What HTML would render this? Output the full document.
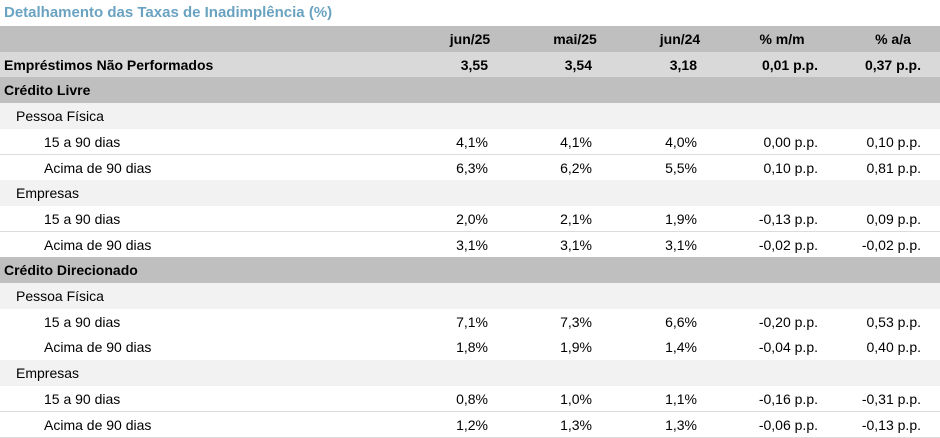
<!DOCTYPE html>
<html><head><meta charset="utf-8"><style>
body{margin:0;width:940px;height:437px;overflow:hidden;background:#fff;font-family:"Liberation Sans",sans-serif;color:#000}
#t{position:absolute;left:4px;top:4px;font-size:15px;font-weight:bold;color:#6aa3c2}
.r{position:absolute;left:0;width:940px;height:26px;box-sizing:border-box;font-size:14px}
.r span{position:absolute;top:5px;white-space:nowrap}
.h{background:#bfbfbf;font-weight:bold}
.e{background:#d9d9d9;font-weight:bold}
.s{background:#f2f2f2}
.d{background:#fff;border-bottom:1px solid #dcdcdc}
</style></head><body>
<div id="t">Detalhamento das Taxas de Inadimplência (%)</div>
<div id="tb"></div>
<script>
const rowLabels=["","Empréstimos Não Performados","Crédito Livre","Pessoa Física","15 a 90 dias","Acima de 90 dias","Empresas","15 a 90 dias","Acima de 90 dias","Crédito Direcionado","Pessoa Física","15 a 90 dias","Acima de 90 dias","Empresas","15 a 90 dias","Acima de 90 dias"];
const rowTypes=["h","e","h","s","d","d","s","d","d","h","s","d","d","s","d","d"];
const indents=[0,4,4,16,44,44,16,44,44,4,16,44,44,16,44,44];
const headers=["jun/25","mai/25","jun/24","% m/m","% a/a"];
const values=[null,["3,55","3,54","3,18","0,01 p.p.","0,37 p.p."],null,null,
["4,1%","4,1%","4,0%","0,00 p.p.","0,10 p.p."],["6,3%","6,2%","5,5%","0,10 p.p.","0,81 p.p."],null,
["2,0%","2,1%","1,9%","-0,13 p.p.","0,09 p.p."],["3,1%","3,1%","3,1%","-0,02 p.p.","-0,02 p.p."],null,null,
["7,1%","7,3%","6,6%","-0,20 p.p.","0,53 p.p."],["1,8%","1,9%","1,4%","-0,04 p.p.","0,40 p.p."],null,
["0,8%","1,0%","1,1%","-0,16 p.p.","-0,31 p.p."],["1,2%","1,3%","1,3%","-0,06 p.p.","-0,13 p.p."]];
const colRight=[488,592,697,818,921];
const hdrCenter=[470,575,680,782,893];
const tb=document.getElementById('tb');
const rh=25.7;
rowLabels.forEach((lab,i)=>{
  const r=document.createElement('div');
  
  
  r.className='r '+rowTypes[i];
  r.style.top=(26+i*rh)+'px';r.style.height=(rh+0.5)+'px';
  const l=document.createElement('span');
  
  
  l.style.left=indents[i]+'px';l.textContent=lab;r.appendChild(l);
  if(i===0){headers.forEach((h,j)=>{const s=document.createElement('span');
    
    
    s.style.left=(hdrCenter[j]-50)+'px';s.style.width='100px';s.style.textAlign='center';s.textContent=h;r.appendChild(s);});}
  if(values[i]){values[i].forEach((v,j)=>{const s=document.createElement('span');
    
    
    s.style.right=(940-colRight[j])+'px';s.textContent=v;r.appendChild(s);});}
  tb.appendChild(r);
});
</script>
</body></html>
